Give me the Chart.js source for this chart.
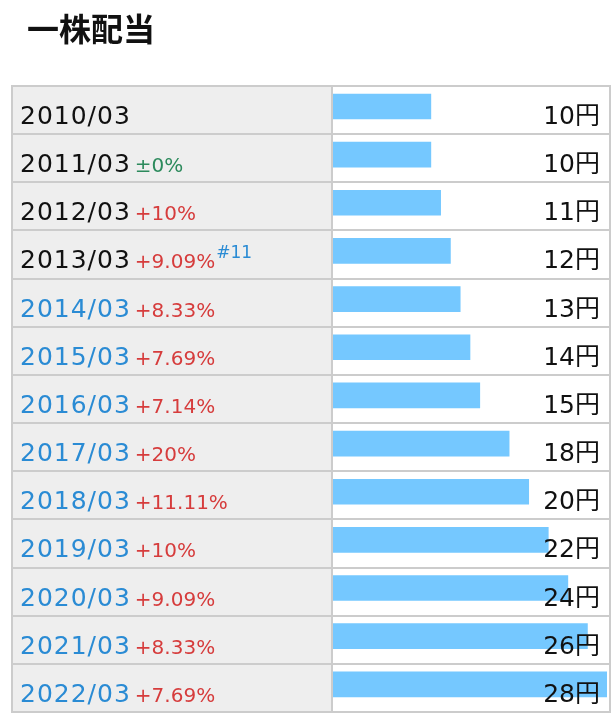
<!DOCTYPE html>
<html>
<head>
<meta charset="utf-8">
<script src="https://cdn.jsdelivr.net/npm/chart.js@4/dist/chart.umd.min.js"></script>
<style>
  html, body { margin: 0; padding: 0; background: #fff; }
  canvas { display: block; }
</style>
</head>
<body>
<canvas id="c" width="616" height="724"></canvas>
<script>
// ---- data ----
const title = '一株配当';
const periods = ['2010/03','2011/03','2012/03','2013/03','2014/03','2015/03','2016/03','2017/03','2018/03','2019/03','2020/03','2021/03','2022/03'];
const dividends = [10, 10, 11, 12, 13, 14, 15, 18, 20, 22, 24, 26, 28];
const changes = ['', '±0%', '+10%', '+9.09%', '+8.33%', '+7.69%', '+7.14%', '+20%', '+11.11%', '+10%', '+9.09%', '+8.33%', '+7.69%'];
const notes = ['', '', '', '#11', '', '', '', '', '', '', '', '', ''];
const linked = [false, false, false, false, true, true, true, true, true, true, true, true, true];
const unit = '円';

const FONT = '"DejaVu Sans", "Noto Sans CJK JP", sans-serif';

const tablePlugin = {
  id: 'table',
  beforeDatasetsDraw(chart) {
    const ctx = chart.ctx;
    const ys = chart.scales.y;
    const n = periods.length;
    const band = (ys.bottom - ys.top) / n;
    const top = Math.round(ys.getPixelForValue(0) - 21.5);
    const bottom = Math.round(top + n * band);
    const L = 11, R = 611, DIV = 331;
    ctx.save();
    // title
    ctx.fillStyle = '#111';
    ctx.font = 'bold 32px "Noto Sans CJK JP", sans-serif';
    ctx.textBaseline = 'middle';
    ctx.textAlign = 'left';
    ctx.fillText(title, 27, 29);
    // backgrounds
    ctx.fillStyle = '#ffffff';
    ctx.fillRect(L, top, R - L, bottom - top + 2);
    ctx.fillStyle = '#eeeeee';
    ctx.fillRect(L, top, DIV - L, bottom - top);
    // borders
    ctx.fillStyle = '#cccccc';
    for (let i = 0; i <= n; i++) {
      const y = Math.round(top + i * band);
      ctx.fillRect(L, y, R - L, 2);
    }
    ctx.fillRect(L, top, 2, bottom - top + 2);
    ctx.fillRect(DIV, top, 2, bottom - top + 2);
    ctx.fillRect(R - 2, top, 2, bottom - top + 2);
    ctx.restore();
  },
  afterDatasetsDraw(chart) {
    const ctx = chart.ctx;
    const ys = chart.scales.y;
    const n = periods.length;
    const band = (ys.bottom - ys.top) / n;
    const top = ys.getPixelForValue(0) - 21.5;
    ctx.save();
    ctx.textBaseline = 'alphabetic';
    for (let i = 0; i < n; i++) {
      const rt = Math.round(top + i * band);
      const base = rt + 38.5;
      // period label
      ctx.textAlign = 'left';
      ctx.font = '25px ' + FONT;
      ctx.letterSpacing = '1px';
      ctx.fillStyle = linked[i] ? '#2a8bd4' : '#111111';
      ctx.fillText(periods[i], 20, base);
      let x = 20 + ctx.measureText(periods[i]).width + 4;
      ctx.letterSpacing = '0px';
      if (changes[i]) {
        ctx.font = '20px ' + FONT;
        const c = changes[i];
        ctx.fillStyle = c.startsWith('±') ? '#2c8a5c' : (c.startsWith('-') ? '#2a8bd4' : '#d63c3c');
        ctx.fillText(c, x, base);
        x += ctx.measureText(c).width + 1;
      }
      if (notes[i]) {
        ctx.font = '17px ' + FONT;
        ctx.fillStyle = '#2a8bd4';
        ctx.fillText(notes[i], x, base - 10);
      }
      // value
      ctx.textAlign = 'right';
      ctx.font = '25px ' + FONT;
      ctx.fillStyle = '#111111';
      ctx.fillText(dividends[i] + unit, 600, base);
    }
    ctx.restore();
  }
};

new Chart(document.getElementById('c'), {
  type: 'bar',
  data: {
    labels: periods,
    datasets: [{
      data: dividends,
      backgroundColor: '#75c8ff',
      borderWidth: 0,
      barThickness: 25
    }]
  },
  options: {
    indexAxis: 'y',
    responsive: false,
    animation: false,
    devicePixelRatio: 1,
    layout: { padding: { left: 333, right: 9, top: 82.4, bottom: 15.6 } },
    plugins: { legend: { display: false }, tooltip: { enabled: false }, title: { display: false } },
    scales: {
      x: { display: false, min: 0, max: 28 },
      y: { display: false }
    }
  },
  plugins: [tablePlugin]
});
</script>
</body>
</html>
